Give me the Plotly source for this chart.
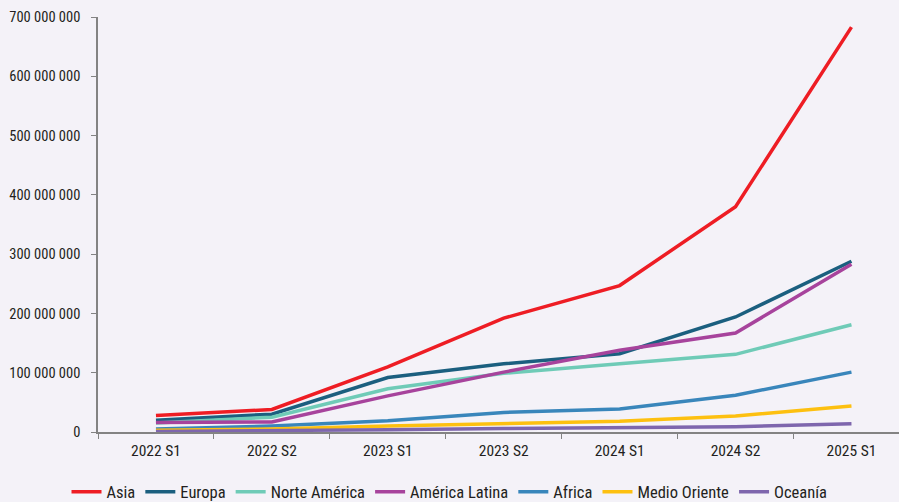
import plotly.graph_objects as go

# Half-year periods on the category axis
periods = ["2022 S1", "2022 S2", "2023 S1", "2023 S2", "2024 S1", "2024 S2", "2025 S1"]

# Values per region
asia = [28_000_000, 38_000_000, 110_000_000, 192_000_000, 247_000_000, 380_000_000, 683_000_000]
europa = [20_000_000, 30_000_000, 92_000_000, 115_000_000, 132_000_000, 194_000_000, 288_000_000]
norte_america = [15_000_000, 25_000_000, 73_000_000, 99_000_000, 115_000_000, 131_000_000, 181_000_000]
america_latina = [16_000_000, 17_000_000, 61_000_000, 101_000_000, 138_000_000, 167_000_000, 283_000_000]
africa = [5_000_000, 10_000_000, 19_000_000, 33_000_000, 39_000_000, 62_000_000, 101_000_000]
medio_oriente = [3_000_000, 5_000_000, 10_000_000, 14_000_000, 18_000_000, 27_000_000, 44_000_000]
oceania = [1_000_000, 2_000_000, 4_000_000, 6_000_000, 7_000_000, 9_000_000, 14_000_000]

y_ticks = [0, 100_000_000, 200_000_000, 300_000_000, 400_000_000, 500_000_000, 600_000_000, 700_000_000]
y_tick_labels = ["0", "100 000 000", "200 000 000", "300 000 000", "400 000 000",
                 "500 000 000", "600 000 000", "700 000 000"]

series = [
    ("Asia", asia, "#ee1d24"),
    ("Europa", europa, "#1b5f7f"),
    ("Norte América", norte_america, "#6fcbb7"),
    ("América Latina", america_latina, "#a7439c"),
    ("Africa", africa, "#3986bb"),
    ("Medio Oriente", medio_oriente, "#fdc010"),
    ("Oceanía", oceania, "#7e66ad"),
]

FONT = "Roboto Condensed, DejaVu Sans Condensed, sans-serif"
TXT = "#231f20"
BG = "#f4f2f8"
AXIS = "#838383"

fig = go.Figure()
for name, values, color in series:
    fig.add_trace(go.Scatter(
        x=periods, y=values, name=name, mode="lines",
        line=dict(color=color, width=3.5),
    ))

fig.update_layout(
    width=899, height=502,
    paper_bgcolor=BG, plot_bgcolor=BG,
    margin=dict(l=98, r=0, t=17, b=70),
    font=dict(family=FONT, size=15, color=TXT),
    showlegend=True,
    legend=dict(
        orientation="h", xref="container", x=0.5, xanchor="center",
        yref="container", y=0.02, yanchor="middle",
        font=dict(family=FONT, size=16.5, color=TXT),
        bgcolor="rgba(0,0,0,0)", itemwidth=30, tracegroupgap=0,
    ),
    xaxis=dict(
        type="category", range=[-0.5, 6.41],
        showgrid=False, zeroline=False,
        showline=True, linecolor=AXIS, linewidth=1.5,
        ticks="outside", tickson="boundaries", ticklen=5, tickcolor=AXIS, tickwidth=1,
        tickfont=dict(family=FONT, size=15.5, color=TXT),
        ticklabelstandoff=4,
    ),
    yaxis=dict(
        range=[0, 700_000_000],
        tickvals=y_ticks, ticktext=y_tick_labels,
        showgrid=False, zeroline=False,
        showline=True, linecolor=AXIS, linewidth=1.5,
        ticks="outside", ticklen=5, tickcolor=AXIS, tickwidth=1,
        tickfont=dict(family=FONT, size=14.5, color=TXT),
        ticklabelstandoff=8,
    ),
)

fig.write_html("out.html")
